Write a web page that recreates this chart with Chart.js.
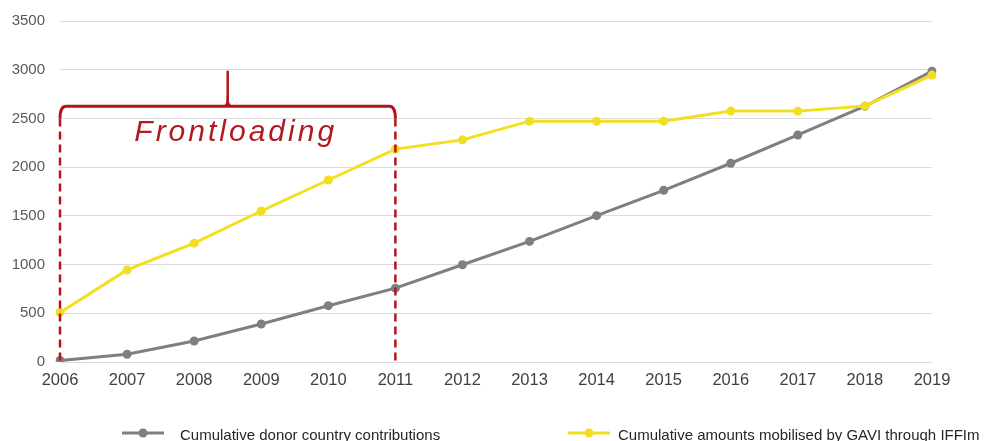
<!DOCTYPE html>
<html>
<head>
<meta charset="utf-8">
<script src="https://cdn.jsdelivr.net/npm/chart.js@4/dist/chart.umd.min.js"></script>
<style>
  html, body { margin: 0; padding: 0; background: #ffffff; }
  #wrap { position: relative; width: 985px; height: 441px; }
</style>
</head>
<body>
<div id="wrap"><canvas id="c" width="985" height="441"></canvas></div>
<script>
// ---- data ----
const years = ['2006','2007','2008','2009','2010','2011','2012','2013','2014','2015','2016','2017','2018','2019'];
const donorContrib = [15, 80, 215, 390, 578, 758, 998, 1238, 1502, 1762, 2040, 2330, 2625, 2985];
const gaviMobilised = [508, 945, 1220, 1550, 1868, 2185, 2280, 2472, 2470, 2472, 2575, 2575, 2628, 2945];
const seriesNames = ['Cumulative donor country contributions', 'Cumulative amounts mobilised by GAVI through IFFIm'];
const yTicks = { min: 0, max: 3500, step: 500 };
// annotation (in data units): bracket spanning categories 2006..2011
const bracketLabel = 'Frontloading';
const bracketFrom = 0, bracketTo = 5;      // category indices
const bracketLevel = 2625;                 // horizontal bar value
const bracketEndLevel = 2500;              // where dashed lines begin
const bracketPeak = 2990;                  // top of middle spike
const bracketTextLevel = 2270;             // text baseline

const GREY = '#7f7f7f';
const YELLOW = '#f2df1f';
const RED = '#b4141c';

const annotationPlugin = {
  id: 'frontloading',
  afterDatasetsDraw(chart) {
    const ctx = chart.ctx;
    const xs = chart.scales.x, ys = chart.scales.y;
    const x1 = xs.getPixelForValue(bracketFrom);
    const x2 = xs.getPixelForValue(bracketTo);
    const xm = (x1 + x2) / 2;
    const yb = ys.getPixelForValue(bracketLevel);
    const ye = ys.getPixelForValue(bracketEndLevel);
    const yp = ys.getPixelForValue(bracketPeak);
    const y0 = ys.getPixelForValue(0);
    ctx.save();
    ctx.strokeStyle = RED;
    ctx.lineWidth = 3;
    ctx.lineCap = 'butt';
    // bracket
    ctx.beginPath();
    ctx.moveTo(x1, ye);
    ctx.quadraticCurveTo(x1, yb, x1 + 6, yb);
    ctx.lineTo(x2 - 6, yb);
    ctx.quadraticCurveTo(x2, yb, x2, ye);
    ctx.stroke();
    // spike
    ctx.beginPath();
    ctx.lineWidth = 2.5;
    ctx.moveTo(xm, yb);
    ctx.lineTo(xm, yp);
    ctx.stroke();
    ctx.fillStyle = RED;
    ctx.beginPath();
    ctx.moveTo(xm - 5, yb);
    ctx.quadraticCurveTo(xm, yb - 2, xm - 1.2, yb - 10);
    ctx.lineTo(xm + 1.2, yb - 10);
    ctx.quadraticCurveTo(xm, yb - 2, xm + 5, yb);
    ctx.closePath();
    ctx.fill();
    // dashed lines
    ctx.lineWidth = 2.5;
    ctx.setLineDash([8, 5]);
    [x1, x2].forEach(x => {
      ctx.beginPath();
      ctx.moveTo(x, ye);
      ctx.lineTo(x, y0);
      ctx.stroke();
    });
    ctx.setLineDash([]);
    // label
    ctx.fillStyle = '#b01a22';
    ctx.font = 'italic 30px "Liberation Sans", Arial, sans-serif';
    try { ctx.letterSpacing = '3px'; } catch (e) {}
    ctx.textAlign = 'center';
    ctx.textBaseline = 'alphabetic';
    ctx.fillText(bracketLabel, xm + 8, ys.getPixelForValue(bracketTextLevel));
    ctx.restore();
  },
  afterDraw(chart) {
    const ctx = chart.ctx;
    const items = [
      { x: 122, color: GREY, text: seriesNames[0] },
      { x: 568, color: YELLOW, text: seriesNames[1] }
    ];
    const y = 433;
    ctx.save();
    items.forEach(it => {
      ctx.strokeStyle = it.color;
      ctx.lineWidth = 3;
      ctx.beginPath();
      ctx.moveTo(it.x, y);
      ctx.lineTo(it.x + 42, y);
      ctx.stroke();
      ctx.fillStyle = it.color;
      ctx.beginPath();
      ctx.arc(it.x + 21, y, 4.5, 0, Math.PI * 2);
      ctx.fill();
      ctx.fillStyle = '#262626';
      ctx.font = '15px "Liberation Sans", Arial, sans-serif';
      ctx.textAlign = 'left';
      ctx.textBaseline = 'alphabetic';
      ctx.fillText(it.text, it.x + (it.x < 300 ? 58 : 50), 440);
    });
    ctx.restore();
  }
};

new Chart(document.getElementById('c'), {
  type: 'line',
  data: {
    labels: years,
    datasets: [
      {
        label: seriesNames[0],
        data: donorContrib,
        borderColor: GREY,
        backgroundColor: GREY,
        borderWidth: 3,
        pointRadius: 4.5,
        pointBorderWidth: 0,
        pointBackgroundColor: GREY,
        tension: 0,
        order: 1
      },
      {
        label: seriesNames[1],
        data: gaviMobilised,
        borderColor: YELLOW,
        backgroundColor: YELLOW,
        borderWidth: 3,
        pointRadius: 4.5,
        pointBorderWidth: 0,
        pointBackgroundColor: YELLOW,
        tension: 0,
        order: 0
      }
    ]
  },
  options: {
    responsive: false,
    animation: false,
    layout: { padding: { left: 0, right: 53, top: 21, bottom: 49 } },
    plugins: { legend: { display: false }, tooltip: { enabled: false } },
    scales: {
      x: {
        offset: false,
        grid: { display: false, drawTicks: false },
        border: { display: false },
        ticks: { color: '#404040', font: { family: '"Liberation Sans", Arial, sans-serif', size: 16.5 }, padding: 9, maxRotation: 0, autoSkip: false },
        afterFit(scale) { scale.height = 30; scale.paddingLeft = 0; scale.paddingRight = 0; }
      },
      y: {
        min: yTicks.min,
        max: yTicks.max,
        grid: { color: '#dcdcdc', lineWidth: 1, drawTicks: false },
        border: { display: false },
        ticks: {
          stepSize: yTicks.step, color: '#595959',
          font: { family: '"Liberation Sans", Arial, sans-serif', size: 15 }, padding: 15,
          callback: v => String(v)
        },
        afterFit(scale) { scale.width = 60; scale.paddingTop = 0; scale.paddingBottom = 0; }
      }
    }
  },
  plugins: [annotationPlugin]
});
</script>
</body>
</html>
